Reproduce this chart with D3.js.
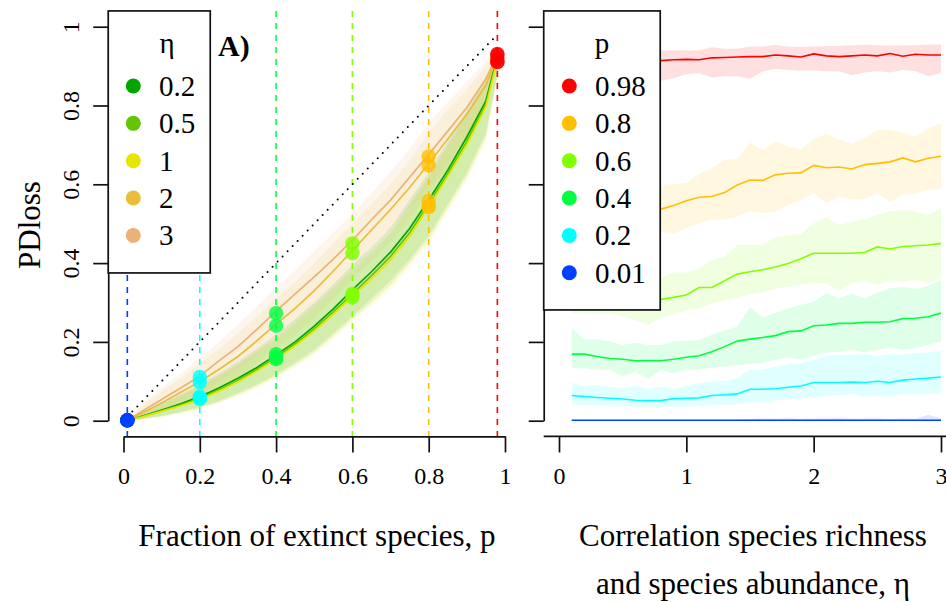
<!DOCTYPE html>
<html>
<head>
<meta charset="utf-8">
<script src="https://cdn.jsdelivr.net/npm/d3@7"></script>
<style>
body{margin:0;background:#fff}
text{font-family:"Liberation Serif","Times New Roman",serif;fill:#000}
</style>
</head>
<body>
<svg id="chart" width="946" height="602"></svg>
<script>
// left panel: PDloss against p, one curve per eta
var pGrid = [0.01,0.05,0.1,0.15,0.2,0.25,0.3,0.35,0.4,0.45,0.5,0.55,0.6,0.65,0.7,0.75,0.8,0.85,0.9,0.95,0.98];
var etaLevels = [0.2, 0.5, 1, 2, 3];
var etaColors = ["#00A600","#63C600","#E6E600","#E9BD3A","#ECB176"];
var leftMean = [
	[0,0.012,0.027,0.043,0.061,0.083,0.108,0.135,0.167,0.2,0.24,0.284,0.332,0.378,0.428,0.488,0.56,0.636,0.72,0.812,0.924],
	[0,0.011,0.025,0.04,0.057,0.078,0.102,0.13,0.161,0.195,0.233,0.276,0.322,0.368,0.417,0.477,0.55,0.627,0.709,0.803,0.919],
	[0,0.01,0.024,0.038,0.054,0.075,0.099,0.126,0.157,0.19,0.228,0.27,0.316,0.36,0.408,0.468,0.543,0.62,0.7,0.797,0.916],
	[0,0.02,0.045,0.072,0.099,0.13,0.163,0.203,0.245,0.285,0.33,0.38,0.432,0.484,0.536,0.592,0.652,0.715,0.778,0.852,0.922],
	[0,0.025,0.054,0.083,0.113,0.152,0.188,0.232,0.278,0.322,0.365,0.41,0.458,0.51,0.56,0.618,0.676,0.735,0.795,0.868,0.928]
];
var leftLow = [
	[0,0.004,0.012,0.022,0.035,0.05,0.07,0.092,0.118,0.148,0.18,0.222,0.265,0.31,0.355,0.41,0.47,0.55,0.63,0.73,0.88],
	[0,0.004,0.011,0.02,0.032,0.047,0.066,0.088,0.113,0.142,0.174,0.215,0.258,0.3,0.345,0.4,0.46,0.54,0.62,0.72,0.875],
	[0,0.003,0.01,0.019,0.03,0.044,0.062,0.083,0.108,0.137,0.168,0.208,0.25,0.292,0.335,0.39,0.45,0.53,0.61,0.71,0.87],
	[0,0.006,0.02,0.038,0.058,0.083,0.11,0.145,0.185,0.22,0.26,0.31,0.36,0.405,0.455,0.51,0.58,0.64,0.71,0.8,0.9],
	[0,0.01,0.03,0.05,0.07,0.1,0.13,0.17,0.21,0.25,0.29,0.335,0.385,0.435,0.485,0.54,0.595,0.655,0.72,0.81,0.905]
];
var leftHigh = [
	[0,0.02,0.045,0.068,0.093,0.12,0.15,0.183,0.218,0.258,0.3,0.346,0.396,0.44,0.49,0.56,0.63,0.71,0.79,0.87,0.935],
	[0,0.018,0.042,0.064,0.088,0.115,0.143,0.176,0.21,0.25,0.292,0.337,0.385,0.43,0.478,0.548,0.62,0.7,0.78,0.865,0.932],
	[0,0.017,0.04,0.061,0.085,0.111,0.139,0.171,0.205,0.244,0.285,0.33,0.377,0.422,0.47,0.54,0.612,0.692,0.772,0.86,0.93],
	[0.001,0.04,0.075,0.108,0.145,0.182,0.222,0.265,0.31,0.352,0.4,0.45,0.5,0.55,0.6,0.66,0.73,0.79,0.84,0.9,0.94],
	[0.001,0.045,0.085,0.12,0.16,0.2,0.245,0.29,0.338,0.382,0.43,0.478,0.525,0.578,0.632,0.69,0.758,0.808,0.86,0.912,0.948]
];

// right panel: PDloss against eta, one curve per p
var etaGrid = [0.1,0.2,0.3,0.4,0.5,0.6,0.7,0.8,0.9,1,1.1,1.2,1.3,1.4,1.5,1.6,1.7,1.8,1.9,2,2.1,2.2,2.3,2.4,2.5,2.6,2.7,2.8,2.9,3];
var pLevels = [0.98, 0.8, 0.6, 0.4, 0.2, 0.01];
var pColors = ["#FF0000","#FFBF00","#80FF00","#00FF40","#00FFFF","#0040FF"];
var rightMean = [
	[0.910,0.910,0.909,0.910,0.911,0.912,0.913,0.914,0.916,0.917,0.916,0.921,0.922,0.923,0.924,0.924,0.928,0.926,0.923,0.931,0.926,0.924,0.926,0.928,0.926,0.932,0.925,0.930,0.928,0.928],
	[0.545,0.544,0.543,0.542,0.542,0.540,0.539,0.537,0.546,0.558,0.567,0.569,0.579,0.598,0.611,0.610,0.624,0.628,0.629,0.648,0.642,0.644,0.639,0.650,0.653,0.657,0.667,0.657,0.666,0.671],
	[0.325,0.322,0.318,0.315,0.313,0.311,0.309,0.308,0.313,0.319,0.338,0.338,0.355,0.372,0.378,0.383,0.390,0.399,0.411,0.425,0.425,0.425,0.425,0.427,0.441,0.436,0.442,0.444,0.446,0.450],
	[0.169,0.169,0.163,0.158,0.156,0.152,0.152,0.152,0.156,0.161,0.165,0.175,0.188,0.202,0.207,0.211,0.216,0.226,0.228,0.241,0.243,0.247,0.247,0.250,0.250,0.251,0.259,0.260,0.264,0.273],
	[0.064,0.061,0.059,0.057,0.055,0.052,0.051,0.051,0.056,0.057,0.058,0.064,0.066,0.068,0.080,0.080,0.081,0.085,0.088,0.097,0.097,0.097,0.098,0.097,0.100,0.097,0.103,0.106,0.108,0.111],
	[0.001,0.001,0.001,0.001,0.001,0.001,0.001,0.001,0.001,0.001,0.001,0.001,0.001,0.001,0.001,0.001,0.001,0.001,0.001,0.001,0.001,0.001,0.001,0.001,0.001,0.001,0.001,0.001,0.001,0.001]
];
var rightLow = [
	[0.858,0.860,0.857,0.861,0.859,0.862,0.860,0.863,0.869,0.879,0.882,0.871,0.874,0.874,0.868,0.886,0.893,0.890,0.888,0.889,0.887,0.886,0.877,0.884,0.887,0.884,0.890,0.887,0.874,0.882],
	[0.485,0.483,0.486,0.482,0.484,0.481,0.479,0.480,0.476,0.489,0.501,0.510,0.510,0.518,0.531,0.527,0.531,0.548,0.560,0.577,0.552,0.569,0.562,0.562,0.577,0.556,0.573,0.577,0.586,0.589],
	[0.272,0.272,0.271,0.272,0.265,0.255,0.243,0.262,0.270,0.280,0.285,0.298,0.305,0.312,0.320,0.326,0.335,0.340,0.345,0.350,0.348,0.330,0.350,0.355,0.345,0.355,0.353,0.358,0.350,0.360],
	[0.133,0.133,0.129,0.129,0.113,0.124,0.105,0.129,0.120,0.129,0.129,0.135,0.137,0.141,0.144,0.147,0.154,0.161,0.156,0.164,0.173,0.175,0.180,0.173,0.180,0.186,0.180,0.184,0.192,0.201],
	[0.042,0.040,0.039,0.038,0.037,0.036,0.036,0.034,0.036,0.036,0.037,0.040,0.040,0.042,0.046,0.047,0.051,0.054,0.057,0.059,0.063,0.065,0.068,0.061,0.065,0.063,0.068,0.069,0.068,0.071],
	[0,0,0,0,0,0,0,0,0,0,0,0,0,0,0,0,0,0,0,0,0,0,0,0,0,0,0,0,0,0]
];
var rightHigh = [
	[0.936,0.935,0.937,0.936,0.938,0.937,0.938,0.940,0.940,0.940,0.940,0.948,0.944,0.944,0.950,0.950,0.954,0.949,0.949,0.950,0.951,0.951,0.953,0.954,0.953,0.952,0.953,0.953,0.955,0.955],
	[0.600,0.602,0.598,0.601,0.600,0.597,0.599,0.598,0.600,0.603,0.626,0.641,0.662,0.664,0.706,0.686,0.710,0.696,0.689,0.714,0.729,0.714,0.703,0.717,0.738,0.738,0.730,0.721,0.742,0.755],
	[0.352,0.354,0.356,0.355,0.358,0.360,0.360,0.362,0.376,0.376,0.387,0.408,0.416,0.446,0.446,0.446,0.466,0.470,0.474,0.501,0.516,0.497,0.505,0.511,0.522,0.531,0.535,0.531,0.522,0.539],
	[0.235,0.207,0.207,0.201,0.192,0.198,0.192,0.192,0.201,0.203,0.205,0.218,0.229,0.239,0.288,0.262,0.274,0.285,0.294,0.302,0.325,0.311,0.323,0.311,0.325,0.336,0.340,0.334,0.342,0.357],
	[0.097,0.086,0.091,0.086,0.082,0.088,0.080,0.086,0.080,0.088,0.095,0.099,0.101,0.108,0.129,0.130,0.137,0.143,0.146,0.154,0.164,0.167,0.167,0.169,0.164,0.169,0.167,0.171,0.174,0.177],
	[0.002,0.002,0.002,0.002,0.002,0.002,0.002,0.002,0.002,0.002,0.002,0.002,0.002,0.002,0.004,0.006,0.005,0.007,0.004,0.006,0.006,0.007,0.005,0.006,0.006,0.004,0.006,0.005,0.015,0.006]
];

var yTicks = [0, 0.2, 0.4, 0.6, 0.8, 1];
var xTicksLeft = [0, 0.2, 0.4, 0.6, 0.8, 1];
var xTicksRight = [0, 1, 2, 3];

var svg = d3.select("#chart");
svg.append("rect").attr("width", 946).attr("height", 602).attr("fill", "#fff");

var y = d3.scaleLinear().domain([0, 1]).range([420.7, 26.7]);
var xL = d3.scaleLinear().domain([0, 1]).range([123.5, 505]);
var xR = d3.scaleLinear().domain([0, 3]).range([559, 941]);
var plotTop = y(1.04), plotBottom = y(-0.04);
var plain = function(d){ return d; };

function ribbon(x, xs){
	return d3.area()
		.x(function(d, i){ return x(xs[i]); })
		.y0(function(d){ return y(d[0]); })
		.y1(function(d){ return y(d[1]); });
}
function curve(x, xs){
	return d3.line()
		.x(function(d, i){ return x(xs[i]); })
		.y(function(d){ return y(d); });
}
function zip(a, b){ return a.map(function(v, i){ return [v, b[i]]; }); }

// ---- left panel
var left = svg.append("g");

etaLevels.forEach(function(eta, j){
	left.append("path")
		.attr("d", ribbon(xL, pGrid)(zip(leftLow[j], leftHigh[j])))
		.attr("fill", etaColors[j])
		.attr("fill-opacity", 0.12);
});

pLevels.forEach(function(p, i){
	left.append("line")
		.attr("x1", xL(p)).attr("x2", xL(p))
		.attr("y1", plotTop).attr("y2", plotBottom)
		.attr("stroke", pColors[i])
		.attr("stroke-width", 1.6)
		.attr("stroke-dasharray", "6,6");
});

etaLevels.forEach(function(eta, j){
	left.append("path")
		.attr("d", curve(xL, pGrid)(leftMean[j]))
		.attr("fill", "none")
		.attr("stroke", etaColors[j])
		.attr("stroke-width", 1.7);
});

var diag = [pLevels[5], pLevels[0]];
left.append("line")
	.attr("x1", xL(diag[0])).attr("y1", y(diag[0]))
	.attr("x2", xL(diag[1])).attr("y2", y(diag[1]))
	.attr("stroke", "#000")
	.attr("stroke-width", 2)
	.attr("stroke-linecap", "round")
	.attr("stroke-dasharray", "0,7.2");

// points: right-panel means at each eta level, placed at each p
pLevels.forEach(function(p, i){
	etaLevels.forEach(function(eta){
		var k = etaGrid.indexOf(eta);
		left.append("circle")
			.attr("cx", xL(p))
			.attr("cy", y(rightMean[i][k]))
			.attr("r", 7.2)
			.attr("fill", pColors[i])
			.attr("fill-opacity", 0.8);
	});
});

left.append("g").attr("transform", "translate(0," + plotBottom + ")")
	.call(d3.axisBottom(xL).tickValues(xTicksLeft).tickSize(16).tickSizeOuter(0).tickPadding(15).tickFormat(plain));

var ayL = left.append("g").attr("transform", "translate(" + xL(-0.04) + ",0)")
	.call(d3.axisLeft(y).tickValues(yTicks).tickSize(15).tickSizeOuter(0).tickFormat(plain));
ayL.selectAll("text")
	.attr("x", 0).attr("dy", "0.35em")
	.attr("text-anchor", "middle")
	.attr("transform", "translate(-38,0) rotate(-90)");

// ---- right panel
var right = svg.append("g");

pLevels.forEach(function(p, i){
	right.append("path")
		.attr("d", ribbon(xR, etaGrid)(zip(rightLow[i], rightHigh[i])))
		.attr("fill", pColors[i])
		.attr("fill-opacity", 0.12);
});
pLevels.forEach(function(p, i){
	right.append("path")
		.attr("d", curve(xR, etaGrid)(rightMean[i]))
		.attr("fill", "none")
		.attr("stroke", pColors[i])
		.attr("stroke-width", 1.6);
});

var axR = right.append("g").attr("transform", "translate(0," + plotBottom + ")")
	.call(d3.axisBottom(xR).tickValues(xTicksRight).tickSize(16).tickSizeOuter(0).tickPadding(15).tickFormat(plain));
axR.select(".domain").attr("d", "M" + xR(-0.12) + ",0H" + xR(3.12));

right.append("g").attr("transform", "translate(" + xR(-0.12) + ",0)")
	.call(d3.axisLeft(y).tickValues(yTicks).tickSize(15).tickSizeOuter(0).tickFormat(""));

svg.selectAll(".domain, .tick line").attr("stroke", "#111").attr("stroke-width", 1.7);
svg.selectAll(".tick text").attr("font-size", 24).attr("fill", "#000")
	.style("font-family", "'Liberation Serif','Times New Roman',serif");

// ---- legends
function legend(x0, w, h, title, titleX, labels, colors, dotX, textX){
	var g = svg.append("g");
	g.append("rect").attr("x", x0).attr("y", plotTop).attr("width", w).attr("height", h)
		.attr("fill", "#fff").attr("stroke", "#111").attr("stroke-width", 1.7);
	g.append("text").attr("x", titleX).attr("y", 53).attr("text-anchor", "middle")
		.attr("font-size", 29).text(title);
	labels.forEach(function(lab, i){
		var cy = 86 + i * 37.35;
		g.append("circle").attr("cx", dotX).attr("cy", cy).attr("r", 7.5).attr("fill", colors[i]);
		g.append("text").attr("x", textX).attr("y", cy + 10).attr("font-size", 29).text(lab);
	});
}
legend(xL(-0.04), 102, 262, "η", 167, etaLevels, etaColors, 133.3, 159);
legend(xR(-0.12), 116.5, 299, "p", 602, pLevels, pColors, 569.3, 595);

svg.append("text").attr("x", 218).attr("y", 56).attr("font-size", 30).attr("font-weight", "bold").text("A)");

// ---- axis titles
svg.append("text").attr("transform", "translate(40,225) rotate(-90)").attr("text-anchor", "middle")
	.attr("font-size", 31).text("PDloss");
svg.append("text").attr("x", 317).attr("y", 546).attr("text-anchor", "middle")
	.attr("font-size", 31).text("Fraction of extinct species, p");
svg.append("text").attr("x", 753).attr("y", 546).attr("text-anchor", "middle")
	.attr("font-size", 31).text("Correlation species richness");
svg.append("text").attr("x", 753).attr("y", 594).attr("text-anchor", "middle")
	.attr("font-size", 31).text("and species abundance, η");
</script>
</body>
</html>
